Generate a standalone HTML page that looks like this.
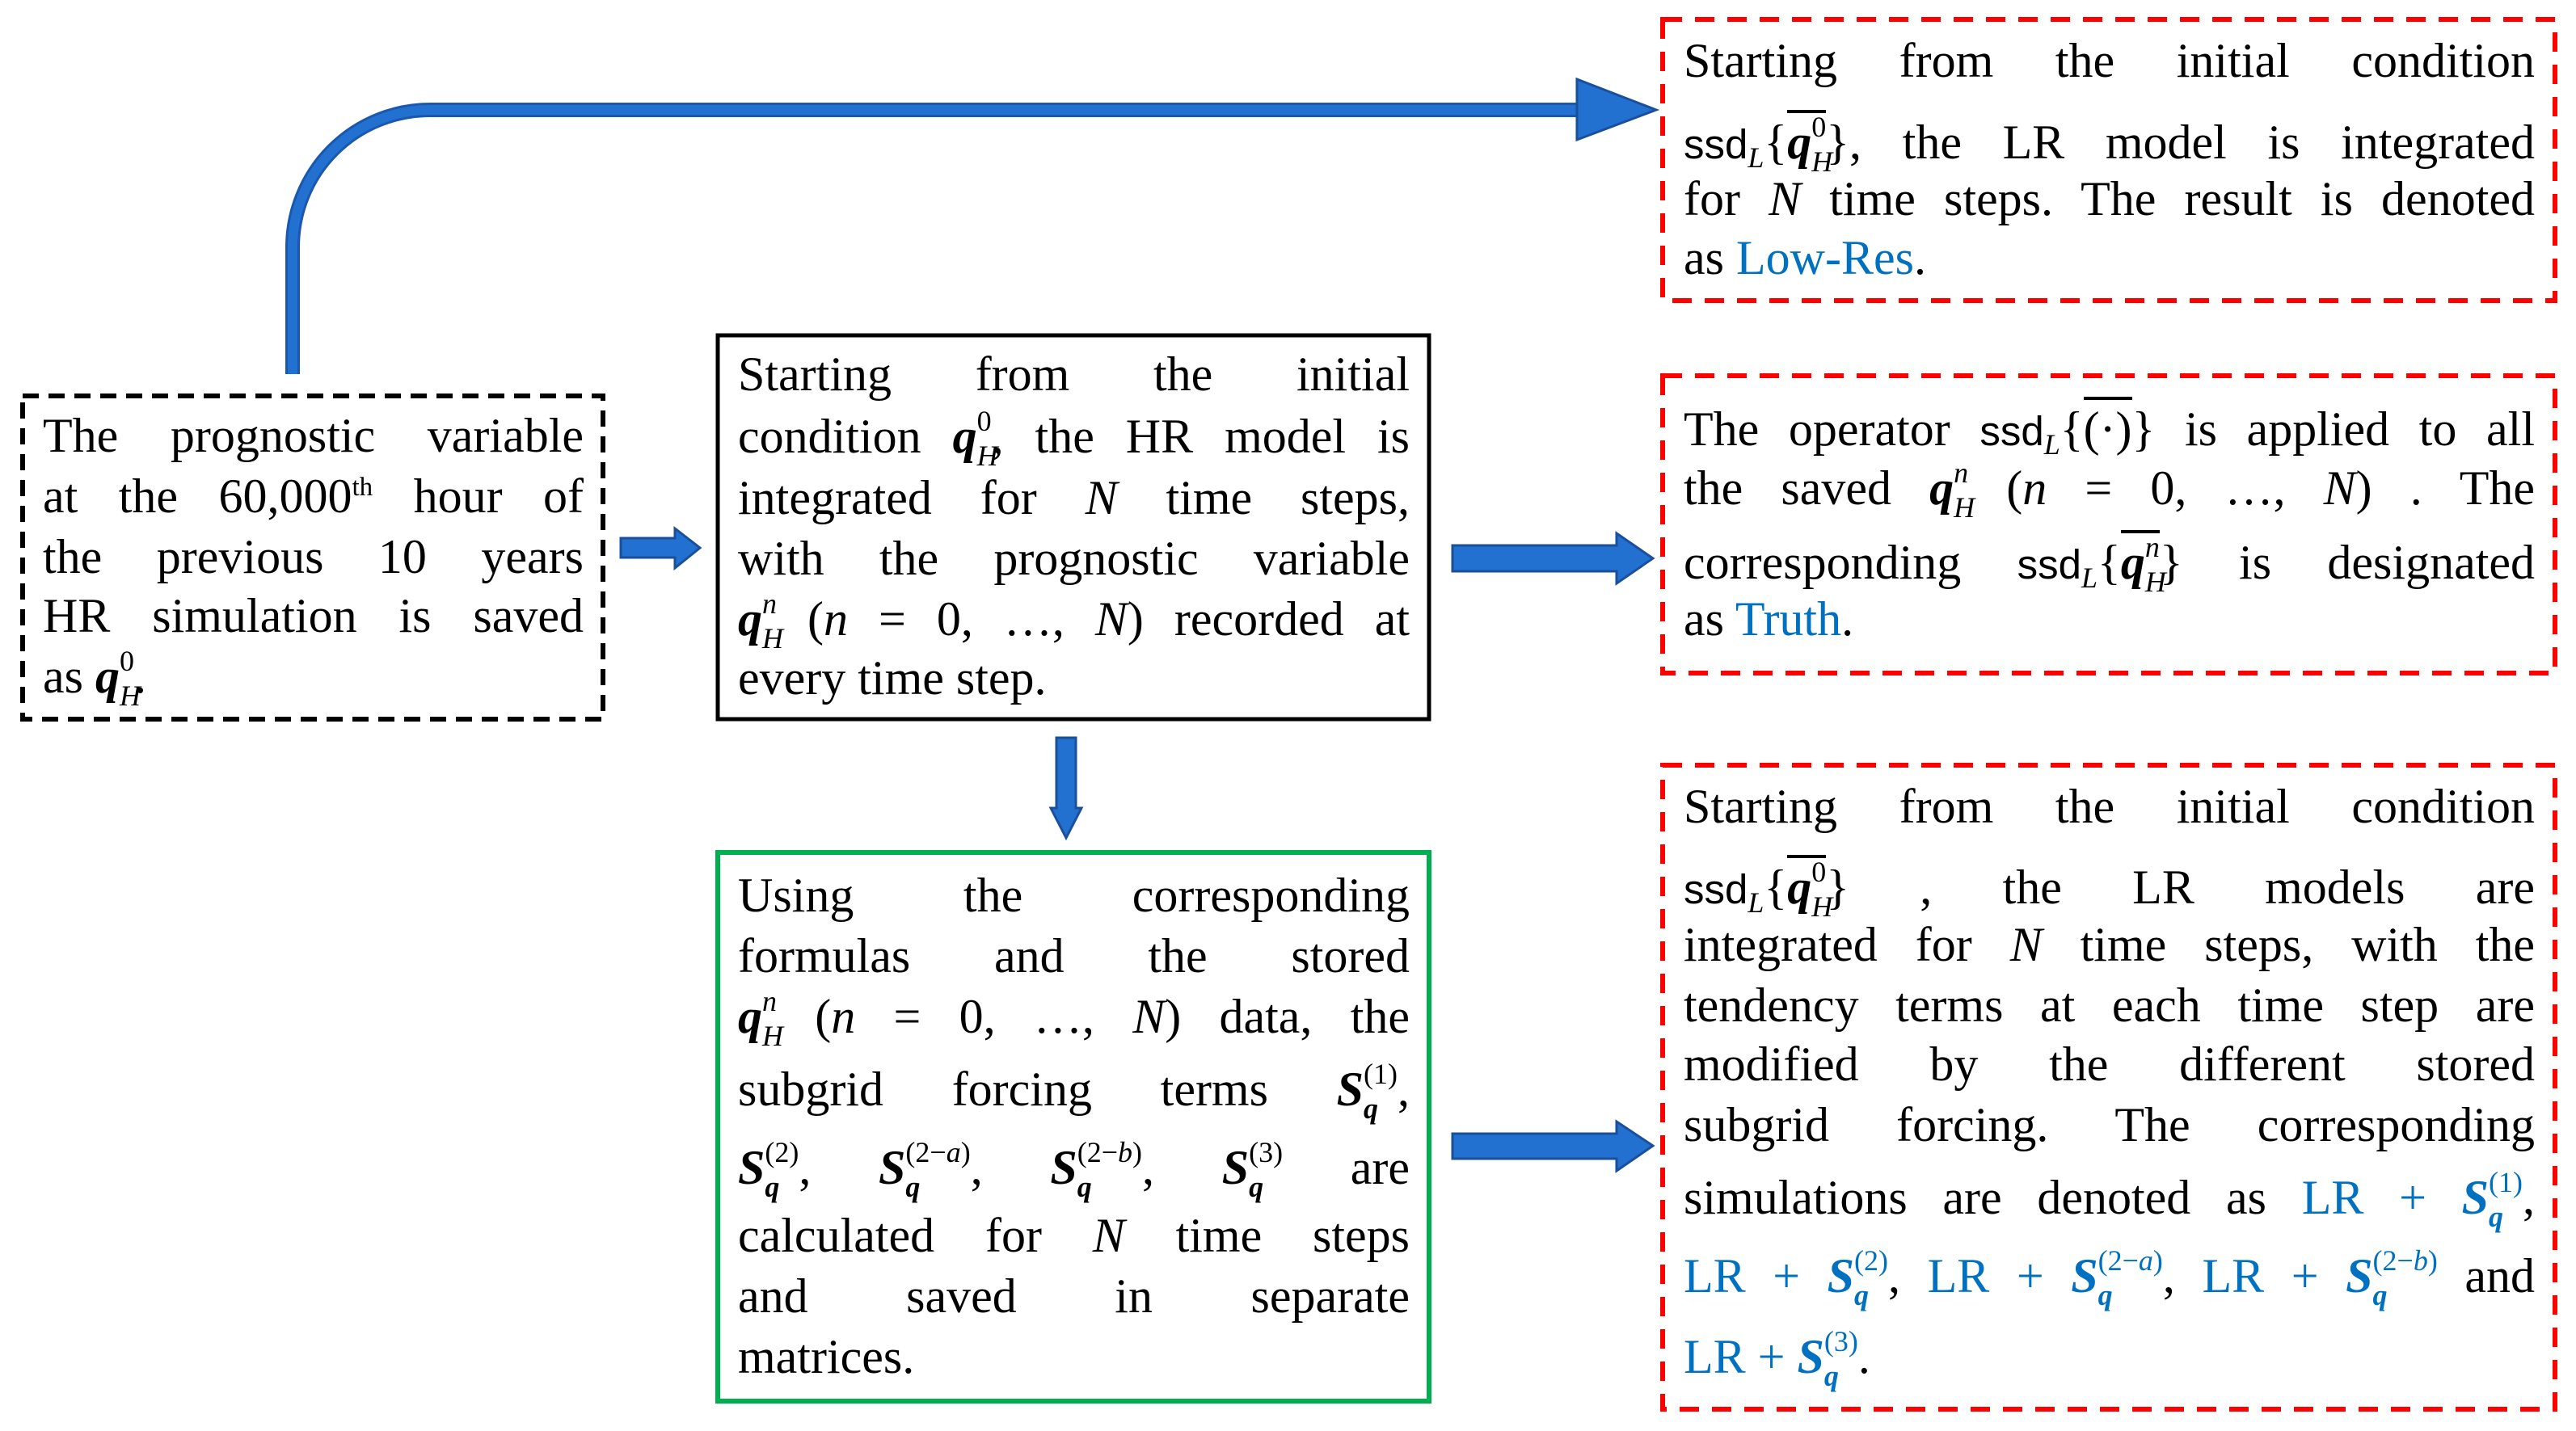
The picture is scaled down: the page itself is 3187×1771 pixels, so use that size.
<!DOCTYPE html>
<html><head><meta charset="utf-8"><style>
body{margin:0;width:3187px;height:1771px;background:#fff;position:relative;overflow:hidden;font-family:"Liberation Serif",serif;color:#000}
.l{position:absolute;height:75px;line-height:75px;font-size:60px;white-space:nowrap;text-align:justify;text-align-last:justify}
.e{text-align-last:left}
.q{font-weight:bold;font-style:italic}
.ss{display:inline-block;font-size:.6em;line-height:1;position:relative;text-align:left;text-align-last:left;white-space:nowrap;font-weight:normal;font-style:normal}
.ss .u{position:relative;top:-0.75em}
.ss .d{position:absolute;left:0;top:0.45em;font-style:italic}
.sq .d{font-weight:bold}
.ssd{font-family:"Liberation Sans",sans-serif;font-size:0.85em}
.sl{font-size:.6em;position:relative;top:.3em;font-style:italic;line-height:0}
.ov{display:inline-block;line-height:1;border-top:4px solid #000;padding-top:6px}
.b{color:#0070C0}
i{font-style:italic}
</style></head><body>
<svg width="3187" height="1771" style="position:absolute;left:0;top:0">
<g fill="none">
<rect x="28" y="490" width="718" height="400" stroke="#000" stroke-width="6" stroke-dasharray="20 12"/>
<rect x="888" y="415" width="880" height="475" stroke="#000" stroke-width="5"/>
<rect x="888" y="1055" width="880" height="679" stroke="#00B050" stroke-width="6"/>
<rect x="2057" y="24" width="1104" height="348" stroke="#f00" stroke-width="6" stroke-dasharray="24 16"/>
<rect x="2057" y="465" width="1104" height="368" stroke="#f00" stroke-width="6" stroke-dasharray="24 16"/>
<rect x="2057" y="947" width="1104" height="797" stroke="#f00" stroke-width="6" stroke-dasharray="24 16"/>
<path d="M362,463 V306 A170,170 0 0 1 532,136 H1955" stroke="#1a58b0" stroke-width="18"/>
<path d="M362,463 V306 A170,170 0 0 1 532,136 H1955" stroke="#2270d0" stroke-width="12"/>
</g>
<g fill="#2270d0" stroke="#1a4f9c" stroke-width="3">
<polygon points="1951,98 2049,136 1951,173"/>
<polygon points="768,666 835,666 835,654 866,678 835,703 835,690 768,690"/>
<polygon points="1797,675 2000,675 2000,660 2045,691 2000,722 2000,707 1797,707"/>
<polygon points="1797,1403 2000,1403 2000,1388 2045,1418 2000,1449 2000,1434 1797,1434"/>
<polygon points="1307,913 1331,913 1331,1000 1338,1000 1319,1037 1300,1000 1307,1000"/>
</g>
</svg>

<!-- left box -->
<div class="l" style="left:53px;width:669px;top:502px">The prognostic variable</div>
<div class="l" style="left:53px;width:669px;top:577px">at the 60,000<sup style="font-size:.55em;line-height:0">th</sup> hour of</div>
<div class="l" style="left:53px;width:669px;top:652px">the previous 10 years</div>
<div class="l" style="left:53px;width:669px;top:725px">HR simulation is saved</div>
<div class="l e" style="left:53px;width:669px;top:800px">as <span class="q">q</span><span class="ss"><span class="u">0</span><span class="d">H</span></span>.</div>

<!-- middle box -->
<div class="l" style="left:913px;width:831px;top:426px">Starting from the initial</div>
<div class="l" style="left:913px;width:831px;top:503px">condition <span class="q">q</span><span class="ss"><span class="u">0</span><span class="d">H</span></span>, the HR model is</div>
<div class="l" style="left:913px;width:831px;top:579px">integrated for <i>N</i> time steps,</div>
<div class="l" style="left:913px;width:831px;top:654px">with the prognostic variable</div>
<div class="l" style="left:913px;width:831px;top:729px"><span class="q">q</span><span class="ss"><span class="u"><i>n</i></span><span class="d">H</span></span> (<i>n</i> = 0, …, <i>N</i>) recorded at</div>
<div class="l e" style="left:913px;width:831px;top:802px">every time step.</div>

<!-- green box -->
<div class="l" style="left:913px;width:831px;top:1071px">Using the corresponding</div>
<div class="l" style="left:913px;width:831px;top:1146px">formulas and the stored</div>
<div class="l" style="left:913px;width:831px;top:1221px"><span class="q">q</span><span class="ss"><span class="u"><i>n</i></span><span class="d">H</span></span> (<i>n</i> = 0, …, <i>N</i>) data, the</div>
<div class="l" style="left:913px;width:831px;top:1311px">subgrid forcing terms <span class="q">S</span><span class="ss sq"><span class="u">(1)</span><span class="d">q</span></span>,</div>
<div class="l" style="left:913px;width:831px;top:1408px"><span class="q">S</span><span class="ss sq"><span class="u">(2)</span><span class="d">q</span></span>, <span class="q">S</span><span class="ss sq"><span class="u">(2−<i>a</i>)</span><span class="d">q</span></span>, <span class="q">S</span><span class="ss sq"><span class="u">(2−<i>b</i>)</span><span class="d">q</span></span>, <span class="q">S</span><span class="ss sq"><span class="u">(3)</span><span class="d">q</span></span> are</div>
<div class="l" style="left:913px;width:831px;top:1492px">calculated for <i>N</i> time steps</div>
<div class="l" style="left:913px;width:831px;top:1567px">and saved in separate</div>
<div class="l e" style="left:913px;width:831px;top:1642px">matrices.</div>

<!-- red 1 -->
<div class="l" style="left:2083px;width:1053px;top:38px">Starting from the initial condition</div>
<div class="l" style="left:2083px;width:1053px;top:136px"><span class="ssd">ssd</span><span class="sl">L</span>{<span class="ov"><span class="q">q</span><span class="ss"><span class="u">0</span><span class="d">H</span></span></span>}, the LR model is integrated</div>
<div class="l" style="left:2083px;width:1053px;top:209px">for <i>N</i> time steps. The result is denoted</div>
<div class="l e" style="left:2083px;width:1053px;top:282px">as <span class="b">Low-Res</span>.</div>

<!-- red 2 -->
<div class="l" style="left:2083px;width:1053px;top:491px">The operator <span class="ssd">ssd</span><span class="sl">L</span>{<span class="ov">(·)</span>} is applied to all</div>
<div class="l" style="left:2083px;width:1053px;top:567px">the saved <span class="q">q</span><span class="ss"><span class="u"><i>n</i></span><span class="d">H</span></span> (<i>n</i> = 0, …, <i>N</i>) . The</div>
<div class="l" style="left:2083px;width:1053px;top:656px">corresponding <span class="ssd">ssd</span><span class="sl">L</span>{<span class="ov"><span class="q">q</span><span class="ss"><span class="u"><i>n</i></span><span class="d">H</span></span></span>} is designated</div>
<div class="l e" style="left:2083px;width:1053px;top:729px">as <span class="b">Truth</span>.</div>

<!-- red 3 -->
<div class="l" style="left:2083px;width:1053px;top:961px">Starting from the initial condition</div>
<div class="l" style="left:2083px;width:1053px;top:1058px"><span class="ssd">ssd</span><span class="sl">L</span>{<span class="ov"><span class="q">q</span><span class="ss"><span class="u">0</span><span class="d">H</span></span></span>} , the LR models are</div>
<div class="l" style="left:2083px;width:1053px;top:1132px">integrated for <i>N</i> time steps, with the</div>
<div class="l" style="left:2083px;width:1053px;top:1207px">tendency terms at each time step are</div>
<div class="l" style="left:2083px;width:1053px;top:1280px">modified by the different stored</div>
<div class="l" style="left:2083px;width:1053px;top:1355px">subgrid forcing. The corresponding</div>
<div class="l" style="left:2083px;width:1053px;top:1445px">simulations are denoted as <span class="b">LR + <span class="q">S</span><span class="ss sq"><span class="u">(1)</span><span class="d">q</span></span></span>,</div>
<div class="l" style="left:2083px;width:1053px;top:1542px"><span class="b">LR + <span class="q">S</span><span class="ss sq"><span class="u">(2)</span><span class="d">q</span></span></span>, <span class="b">LR + <span class="q">S</span><span class="ss sq"><span class="u">(2−<i>a</i>)</span><span class="d">q</span></span></span>, <span class="b">LR + <span class="q">S</span><span class="ss sq"><span class="u">(2−<i>b</i>)</span><span class="d">q</span></span></span> and</div>
<div class="l e" style="left:2083px;width:1053px;top:1642px"><span class="b">LR + <span class="q">S</span><span class="ss sq"><span class="u">(3)</span><span class="d">q</span></span></span>.</div>
</body></html>
